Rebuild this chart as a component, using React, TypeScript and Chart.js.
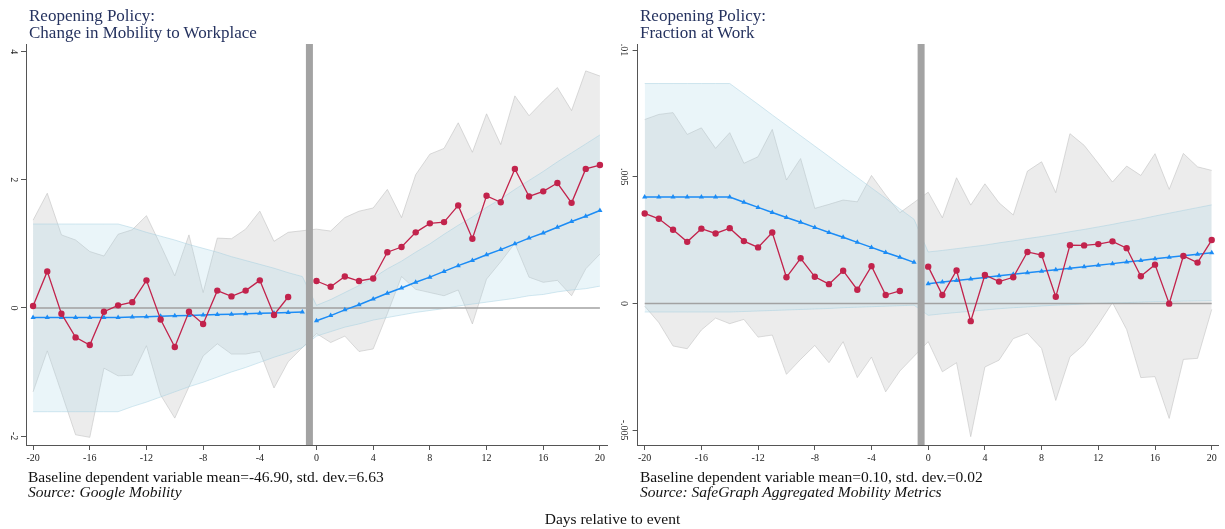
import { useEffect, useRef } from "react";
import { Chart, registerables } from "chart.js";

Chart.register(...registerables);

const FONT = '"Liberation Serif", "Times New Roman", Times, serif';

// Event time (days relative to reopening)
const daysPre = [-20, -19, -18, -17, -16, -15, -14, -13, -12, -11, -10, -9, -8, -7, -6, -5, -4, -3, -2];
const daysTrendPre = [-20, -19, -18, -17, -16, -15, -14, -13, -12, -11, -10, -9, -8, -7, -6, -5, -4, -3, -2, -1];
const daysPost = [0, 1, 2, 3, 4, 5, 6, 7, 8, 9, 10, 11, 12, 13, 14, 15, 16, 17, 18, 19, 20];

const xTickValues = [-20, -16, -12, -8, -4, 0, 4, 8, 12, 16, 20];
const xTickLabels = ["-20", "-16", "-12", "-8", "-4", "0", "4", "8", "12", "16", "20"];
const eventDay = -0.5;

// Panel 1: change in mobility to workplace (Google Mobility)
const mobCoefPre = [0.03, 0.57, -0.09, -0.46, -0.58, -0.06, 0.04, 0.09, 0.43, -0.18, -0.61, -0.06, -0.25, 0.27, 0.18, 0.27, 0.43, -0.11, 0.17];
const mobCoefPost = [0.42, 0.33, 0.49, 0.42, 0.46, 0.87, 0.95, 1.18, 1.32, 1.34, 1.6, 1.08, 1.75, 1.65, 2.17, 1.74, 1.82, 1.95, 1.64, 2.17, 2.23];
const mobCiHiPre = [1.37, 1.79, 1.14, 1.06, 0.88, 0.81, 1.15, 1.22, 1.44, 0.98, 0.5, 1.14, 0.24, 1.09, 1.08, 1.23, 1.51, 1.04, 1.18];
const mobCiLoPre = [-1.31, -0.67, -1.32, -1.98, -2.02, -0.94, -1.06, -1.05, -0.59, -1.36, -1.72, -1.23, -0.75, -0.56, -0.72, -0.72, -0.68, -1.25, -0.84];
const mobCiHiPost = [1.23, 1.2, 1.41, 1.51, 1.56, 1.85, 1.41, 2.08, 2.4, 2.49, 2.89, 2.43, 3.03, 2.55, 3.31, 3.0, 3.23, 3.44, 3.08, 3.7, 3.62];
const mobCiLoPost = [-0.4, -0.54, -0.44, -0.68, -0.64, -0.09, 0.49, 0.29, 0.24, 0.19, 0.28, -0.25, 0.45, 0.72, 1.01, 0.48, 0.4, 0.43, 0.19, 0.61, 0.84];
const mobTrendPre = [-0.15, -0.15, -0.15, -0.15, -0.15, -0.15, -0.15, -0.143, -0.137, -0.13, -0.124, -0.117, -0.111, -0.104, -0.098, -0.091, -0.085, -0.078, -0.072, -0.065];
const mobTrendPost = [-0.2, -0.12, -0.03, 0.05, 0.14, 0.23, 0.31, 0.4, 0.48, 0.57, 0.66, 0.74, 0.83, 0.91, 1.0, 1.09, 1.17, 1.26, 1.35, 1.43, 1.52];
const mobTrendHiPre = [1.31, 1.31, 1.31, 1.31, 1.31, 1.31, 1.31, 1.25, 1.18, 1.12, 1.06, 0.99, 0.93, 0.87, 0.8, 0.74, 0.68, 0.62, 0.55, 0.49];
const mobTrendLoPre = [-1.62, -1.62, -1.62, -1.62, -1.62, -1.62, -1.62, -1.54, -1.47, -1.39, -1.31, -1.23, -1.16, -1.08, -1.0, -0.93, -0.85, -0.77, -0.7, -0.62];
const mobTrendHiPost = [0.04, 0.13, 0.24, 0.35, 0.47, 0.61, 0.73, 0.87, 1.0, 1.15, 1.29, 1.42, 1.57, 1.7, 1.85, 1.99, 2.13, 2.28, 2.42, 2.56, 2.7];
const mobTrendLoPost = [-0.44, -0.37, -0.3, -0.25, -0.19, -0.15, -0.11, -0.07, -0.04, -0.01, 0.03, 0.06, 0.09, 0.12, 0.15, 0.19, 0.21, 0.25, 0.28, 0.3, 0.34];
const mobYTicks = [-2, 0, 2, 4];
const mobYTickLabels = ["-2", "0", "2", "4"];

// Panel 2: fraction at work (SafeGraph)
const fracCoefPre = [0.00355, 0.00334, 0.00291, 0.00243, 0.00295, 0.00276, 0.00297, 0.00246, 0.00221, 0.0028, 0.00103, 0.00178, 0.00105, 0.00076, 0.00129, 0.00054, 0.00147, 0.00033, 0.00049];
const fracCoefPost = [0.00145, 0.00033, 0.0013, -0.0007, 0.00112, 0.00086, 0.00103, 0.00203, 0.00191, 0.00026, 0.0023, 0.00229, 0.00234, 0.00245, 0.00218, 0.00107, 0.00153, -0.00001, 0.00187, 0.00161, 0.0025];
const fracCiHiPre = [0.00726, 0.00746, 0.00753, 0.00667, 0.00693, 0.00612, 0.00674, 0.00553, 0.00579, 0.00687, 0.00487, 0.00572, 0.00375, 0.00391, 0.00408, 0.00401, 0.00505, 0.00428, 0.00358];
const fracCiLoPre = [-0.00011, -0.00076, -0.00168, -0.00179, -0.00105, -0.00058, -0.0008, -0.00063, -0.00133, -0.00125, -0.0028, -0.00221, -0.00166, -0.00234, -0.00151, -0.00293, -0.00212, -0.00349, -0.00267];
const fracCiHiPost = [0.00439, 0.00338, 0.00496, 0.00388, 0.00472, 0.00397, 0.00349, 0.00522, 0.00559, 0.00437, 0.0067, 0.00624, 0.00553, 0.00479, 0.00542, 0.00505, 0.00591, 0.0045, 0.00592, 0.00539, 0.00525];
const fracCiLoPost = [-0.00151, -0.0027, -0.00234, -0.00526, -0.00251, -0.00224, -0.00139, -0.00118, -0.00178, -0.00383, -0.00211, -0.00162, -0.00083, 0.00003, -0.00103, -0.00293, -0.00289, -0.00454, -0.00221, -0.00217, -0.00024];
const fracTrendPre = [0.0042, 0.0042, 0.0042, 0.0042, 0.0042, 0.0042, 0.0042, 0.00399, 0.00379, 0.00359, 0.00339, 0.0032, 0.003, 0.0028, 0.00261, 0.00241, 0.00221, 0.00201, 0.00182, 0.00162];
const fracTrendPost = [0.00078, 0.00084, 0.0009, 0.00096, 0.00102, 0.00109, 0.00115, 0.00121, 0.00127, 0.00133, 0.00139, 0.00145, 0.00151, 0.00157, 0.00163, 0.00169, 0.00176, 0.00182, 0.00188, 0.00194, 0.002];
const fracTrendHiPre = [0.00868, 0.00868, 0.00868, 0.00868, 0.00868, 0.00868, 0.00868, 0.00827, 0.00786, 0.00744, 0.00703, 0.00662, 0.00621, 0.0058, 0.00538, 0.00497, 0.00456, 0.00415, 0.00373, 0.00332];
const fracTrendLoPre = [-0.00034, -0.00034, -0.00034, -0.00034, -0.00034, -0.00034, -0.00034, -0.00032, -0.0003, -0.00028, -0.00026, -0.00024, -0.00022, -0.0002, -0.00017, -0.00015, -0.00013, -0.00011, -0.00009, -0.00007];
const fracTrendHiPost = [0.00203, 0.00209, 0.00216, 0.00223, 0.0023, 0.00239, 0.00247, 0.00256, 0.00264, 0.00273, 0.00283, 0.00292, 0.00302, 0.00312, 0.00323, 0.00333, 0.00345, 0.00356, 0.00367, 0.00378, 0.00389];
const fracTrendLoPost = [-0.00047, -0.00041, -0.00036, -0.00031, -0.00026, -0.00021, -0.00017, -0.00014, -0.0001, -0.00007, -0.00005, -0.00002, 0.0, 0.00002, 0.00003, 0.00005, 0.00007, 0.00008, 0.00009, 0.0001, 0.00011];
const fracYTicks = [-0.005, 0, 0.005, 0.01];
const fracYTickLabels = ["-.005", "0", ".005", ".01"];

const RED = "#c2234c";
const BLUE = "#1c8cf5";

type PanelSpec = {
  coefPre: number[];
  coefPost: number[];
  ciHiPre: number[];
  ciLoPre: number[];
  ciHiPost: number[];
  ciLoPost: number[];
  trendPre: number[];
  trendPost: number[];
  trendHiPre: number[];
  trendLoPre: number[];
  trendHiPost: number[];
  trendLoPost: number[];
  yMin: number;
  yMax: number;
  yTicks: number[];
  yTickLabels: string[];
  axisWidth: number;
  padRight: number;
  yLabelPad: number;
};

const pts = (xs: number[], ys: number[]) => xs.map((x, i) => ({ x, y: ys[i] }));

function buildChart(canvas: HTMLCanvasElement, p: PanelSpec) {
  const bandDays = [...daysPre, ...daysPost];
  const trendDays = [...daysTrendPre, ...daysPost];
  const lineBase = { pointRadius: 0, tension: 0, fill: false };
  const datasets: any[] = [
    // confidence band of the event-study estimates
    { ...lineBase, data: pts(bandDays, [...p.ciHiPre, ...p.ciHiPost]), borderColor: "rgba(190,190,190,0.55)", borderWidth: 1, fill: "+1", backgroundColor: "rgba(200,200,200,0.34)", order: 10 },
    { ...lineBase, data: pts(bandDays, [...p.ciLoPre, ...p.ciLoPost]), borderColor: "rgba(190,190,190,0.55)", borderWidth: 1, order: 10 },
    // confidence band of the fitted trend
    { ...lineBase, data: pts(trendDays, [...p.trendHiPre, ...p.trendHiPost]), borderColor: "rgba(160,205,222,0.45)", borderWidth: 1, fill: "+1", backgroundColor: "rgba(173,216,230,0.26)", order: 9 },
    { ...lineBase, data: pts(trendDays, [...p.trendLoPre, ...p.trendLoPost]), borderColor: "rgba(160,205,222,0.45)", borderWidth: 1, order: 9 },
    // zero reference
    { ...lineBase, data: [{ x: -20, y: 0 }, { x: 20, y: 0 }], borderColor: "#a2a2a2", borderWidth: 1.5, order: 8 },
    // fitted trend
    { data: pts(daysTrendPre, p.trendPre), borderColor: BLUE, backgroundColor: BLUE, borderWidth: 1.5, pointStyle: "triangle", pointRadius: 3, pointBorderWidth: 0, tension: 0, fill: false, order: 5 },
    { data: pts(daysPost, p.trendPost), borderColor: BLUE, backgroundColor: BLUE, borderWidth: 1.5, pointStyle: "triangle", pointRadius: 3, pointBorderWidth: 0, tension: 0, fill: false, order: 5 },
    // event-study estimates
    { data: pts(daysPre, p.coefPre), borderColor: RED, backgroundColor: RED, borderWidth: 1.3, pointStyle: "circle", pointRadius: 3.2, pointBorderWidth: 0, tension: 0, fill: false, order: 4 },
    { data: pts(daysPost, p.coefPost), borderColor: RED, backgroundColor: RED, borderWidth: 1.3, pointStyle: "circle", pointRadius: 3.2, pointBorderWidth: 0, tension: 0, fill: false, order: 4 },
    // event marker
    { ...lineBase, data: [{ x: eventDay, y: p.yMin }, { x: eventDay, y: p.yMax }], borderColor: "#a3a3a3", borderWidth: 7, borderCapStyle: "butt", order: 1 },
  ];

  return new Chart(canvas, {
    type: "line",
    data: { datasets },
    options: {
      animation: false,
      responsive: false,
      events: [],
      layout: { padding: { left: 0, right: p.padRight, top: 44, bottom: 64 } },
      plugins: { legend: { display: false }, tooltip: { enabled: false }, title: { display: false } },
      scales: {
        x: {
          type: "linear",
          min: -20.5,
          max: 20.5,
          afterBuildTicks: (s: any) => {
            s.ticks = xTickValues.map((v) => ({ value: v }));
          },
          afterFit: (s: any) => {
            s.height = 20;
            s.paddingLeft = 0;
            s.paddingRight = 0;
          },
          grid: { drawOnChartArea: false, drawTicks: true, tickLength: 5, color: "#555" },
          border: { display: true, color: "#555", width: 1 },
          ticks: {
            autoSkip: false,
            minRotation: 0,
            maxRotation: 0,
            padding: 2,
            color: "#222",
            font: { family: FONT, size: 10 },
            callback: (_v: any, i: number) => xTickLabels[i],
          },
        },
        y: {
          type: "linear",
          min: p.yMin,
          max: p.yMax,
          afterBuildTicks: (s: any) => {
            s.ticks = p.yTicks.map((v) => ({ value: v }));
          },
          afterFit: (s: any) => {
            s.width = p.axisWidth;
            s.paddingTop = 0;
            s.paddingBottom = 0;
          },
          grid: { drawOnChartArea: false, drawTicks: true, tickLength: 5, color: "#555" },
          border: { display: true, color: "#555", width: 1 },
          ticks: {
            autoSkip: false,
            minRotation: -90,
            maxRotation: -90,
            crossAlign: "center",
            padding: p.yLabelPad,
            color: "#222",
            font: { family: FONT, size: 10 },
            callback: (_v: any, i: number) => p.yTickLabels[i],
          },
        },
      },
    },
  } as any);
}

function Panel(props: { spec: PanelSpec; left: number; width: number }) {
  const ref = useRef<HTMLCanvasElement>(null);
  useEffect(() => {
    if (!ref.current) return;
    const chart = buildChart(ref.current, props.spec);
    return () => chart.destroy();
  }, []);
  return (
    <canvas
      ref={ref}
      width={props.width}
      height={529}
      style={{ position: "absolute", left: props.left, top: 0, width: props.width, height: 529 }}
    />
  );
}

const mobilitySpec: PanelSpec = {
  coefPre: mobCoefPre,
  coefPost: mobCoefPost,
  ciHiPre: mobCiHiPre,
  ciLoPre: mobCiLoPre,
  ciHiPost: mobCiHiPost,
  ciLoPost: mobCiLoPost,
  trendPre: mobTrendPre,
  trendPost: mobTrendPost,
  trendHiPre: mobTrendHiPre,
  trendLoPre: mobTrendLoPre,
  trendHiPost: mobTrendHiPost,
  trendLoPost: mobTrendLoPost,
  yMin: -2.14,
  yMax: 4.12,
  yTicks: mobYTicks,
  yTickLabels: mobYTickLabels,
  axisWidth: 26,
  padRight: 5,
  yLabelPad: 3,
};

const fractionSpec: PanelSpec = {
  coefPre: fracCoefPre,
  coefPost: fracCoefPost,
  ciHiPre: fracCiHiPre,
  ciLoPre: fracCiLoPre,
  ciHiPost: fracCiHiPost,
  ciLoPost: fracCiLoPost,
  trendPre: fracTrendPre,
  trendPost: fracTrendPost,
  trendHiPre: fracTrendHiPre,
  trendLoPre: fracTrendLoPre,
  trendHiPost: fracTrendHiPost,
  trendLoPost: fracTrendLoPost,
  yMin: -0.00559,
  yMax: 0.01024,
  yTicks: fracYTicks,
  yTickLabels: fracYTickLabels,
  axisWidth: 25.6,
  padRight: 6.2,
  yLabelPad: -1,
};

const titleStyle: React.CSSProperties = {
  position: "absolute",
  top: 7,
  fontFamily: FONT,
  fontSize: 17,
  lineHeight: "17px",
  color: "#25325f",
  whiteSpace: "nowrap",
};

const noteStyle: React.CSSProperties = {
  position: "absolute",
  top: 469,
  fontFamily: FONT,
  fontSize: 15.5,
  lineHeight: "15px",
  color: "#111",
  whiteSpace: "nowrap",
};

export default function App() {
  return (
    <div style={{ position: "absolute", left: 0, top: 0, width: 1225, height: 529, background: "#fff", overflow: "hidden" }}>
      <Panel spec={mobilitySpec} left={0} width={612} />
      <Panel spec={fractionSpec} left={612} width={613} />
      <div style={{ ...titleStyle, left: 29 }}>
        Reopening Policy:
        <br />
        Change in Mobility to Workplace
      </div>
      <div style={{ ...titleStyle, left: 640 }}>
        Reopening Policy:
        <br />
        Fraction at Work
      </div>
      <div style={{ ...noteStyle, left: 28 }}>
        Baseline dependent variable mean=-46.90, std. dev.=6.63
        <br />
        <i>Source: Google Mobility</i>
      </div>
      <div style={{ ...noteStyle, left: 640 }}>
        Baseline dependent variable mean=0.10, std. dev.=0.02
        <br />
        <i>Source: SafeGraph Aggregated Mobility Metrics</i>
      </div>
      <div
        style={{
          position: "absolute",
          left: 0,
          width: 1225,
          top: 511,
          textAlign: "center",
          fontFamily: FONT,
          fontSize: 15.5,
          lineHeight: "15px",
          color: "#111",
        }}
      >
        Days relative to event
      </div>
    </div>
  );
}
